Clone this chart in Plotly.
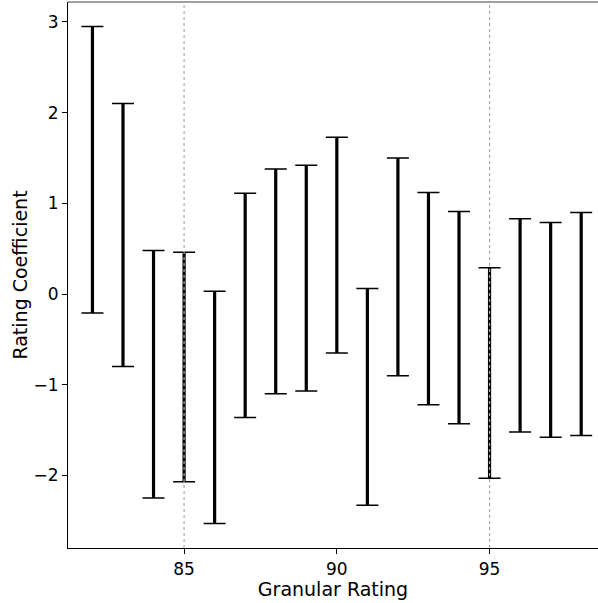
import plotly.graph_objects as go

ratings = [82, 83, 84, 85, 86, 87, 88, 89, 90, 91, 92, 93, 94, 95, 96, 97, 98]
lows = [-0.21, -0.80, -2.25, -2.07, -2.53, -1.36, -1.10, -1.07, -0.65, -2.33,
        -0.90, -1.22, -1.43, -2.03, -1.52, -1.58, -1.56]
highs = [2.95, 2.10, 0.48, 0.46, 0.03, 1.11, 1.38, 1.42, 1.73, 0.06,
         1.50, 1.12, 0.91, 0.29, 0.83, 0.79, 0.90]
ref_lines = [85, 95]

mids = [(l + h) / 2 for l, h in zip(lows, highs)]
errs = [(h - l) / 2 for l, h in zip(lows, highs)]

fig = go.Figure()
# caps (thin)
fig.add_trace(go.Scatter(
    x=ratings, y=mids, mode="markers",
    marker=dict(size=1, color="rgba(0,0,0,0)"),
    error_y=dict(type="data", array=errs, symmetric=True,
                 color="black", thickness=1.5, width=11),
    showlegend=False, hoverinfo="skip",
))
# thick stems
fig.add_trace(go.Scatter(
    x=ratings, y=mids, mode="markers",
    marker=dict(size=1, color="rgba(0,0,0,0)"),
    error_y=dict(type="data", array=errs, symmetric=True,
                 color="black", thickness=3.2, width=0),
    showlegend=False, hoverinfo="skip",
))

for r in ref_lines:
    fig.add_shape(type="line", x0=r, x1=r, y0=0, y1=1, xref="x", yref="paper",
                  line=dict(color="#aaaaaa", width=1.2, dash="dot"), layer="above")

fig.add_shape(type="line", x0=0, x1=1, y0=1, y1=1, xref="paper", yref="paper",
              line=dict(color="#808080", width=1.5))

font = "DejaVu Sans, sans-serif"
fig.update_layout(
    width=598, height=603,
    margin=dict(l=68, r=0, t=2, b=55),
    paper_bgcolor="white", plot_bgcolor="white",
    font=dict(family=font, size=17, color="black"),
    xaxis=dict(range=[81.2, 98.55], tickvals=[85, 90, 95], showgrid=False,
               zeroline=False, showline=True, linecolor="black", linewidth=1.2,
               ticks="outside", ticklen=5, tickcolor="black",
               title=dict(text="Granular Rating", font=dict(size=19), standoff=1)),
    yaxis=dict(range=[-2.8, 3.22], tickvals=[-2, -1, 0, 1, 2, 3],
               ticktext=["\u22122", "\u22121", "0", "1", "2", "3"],
               showgrid=False, zeroline=False, showline=True, linecolor="black",
               linewidth=1.2, ticks="outside", ticklen=5, tickcolor="black",
               title=dict(text="Rating Coefficient", font=dict(size=19), standoff=0)),
)

fig.write_html("out.html")
